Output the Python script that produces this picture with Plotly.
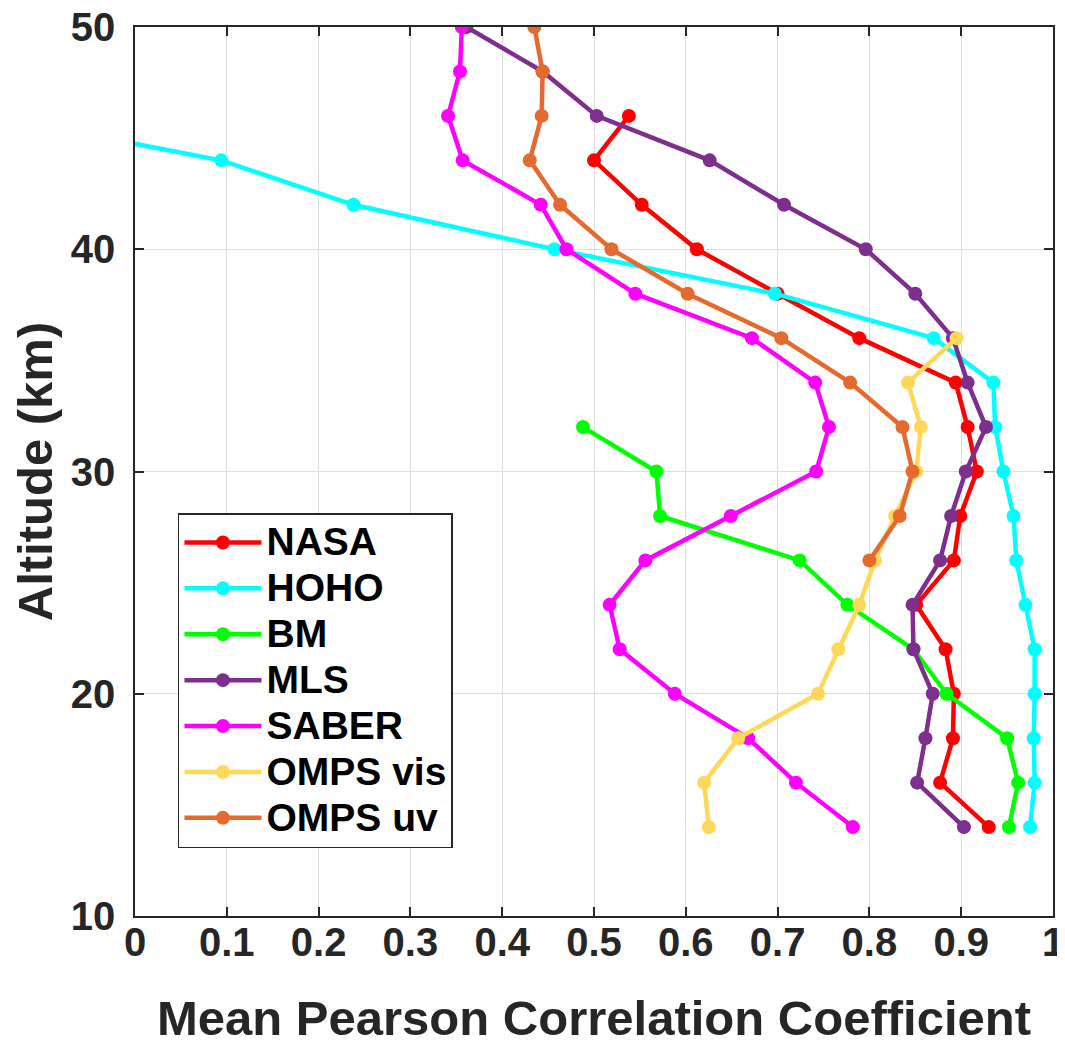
import plotly.graph_objects as go

# Altitude levels (km)
alt_nasa = [46, 44, 42, 40, 38, 36, 34, 32, 30, 28, 26, 24, 22, 20, 18, 16, 14]
nasa = [0.538, 0.500, 0.552, 0.612, 0.700, 0.789, 0.894, 0.907, 0.917, 0.899,
        0.892, 0.851, 0.883, 0.892, 0.891, 0.877, 0.930]

alt_hoho = [46, 44, 42, 40, 38, 36, 34, 32, 30, 28, 26, 24, 22, 20, 18, 16, 14]
hoho = [-0.16, 0.094, 0.238, 0.457, 0.697, 0.870, 0.935, 0.937, 0.946, 0.957,
        0.960, 0.970, 0.980, 0.980, 0.979, 0.980, 0.975]

alt_bm = [32, 30, 28, 26, 24, 22, 20, 18, 16, 14]
bm = [0.488, 0.568, 0.572, 0.724, 0.776, 0.848, 0.884, 0.950, 0.962, 0.952]

alt_mls = [50, 48, 46, 44, 42, 40, 38, 36, 34, 32, 30, 28, 26, 24, 22, 20, 18, 16, 14]
mls = [0.361, 0.444, 0.503, 0.626, 0.707, 0.796, 0.850, 0.891, 0.907, 0.927,
       0.905, 0.889, 0.877, 0.847, 0.848, 0.869, 0.861, 0.852, 0.903]

alt_saber = [50, 48, 46, 44, 42, 40, 38, 36, 34, 32, 30, 28, 26, 24, 22, 20, 18, 16, 14]
saber = [0.356, 0.354, 0.341, 0.357, 0.442, 0.470, 0.545, 0.672, 0.741, 0.756,
         0.742, 0.649, 0.556, 0.517, 0.528, 0.588, 0.668, 0.720, 0.782]

alt_vis = [36, 34, 32, 30, 28, 26, 24, 22, 20, 18, 16, 14]
omps_vis = [0.895, 0.842, 0.856, 0.851, 0.828, 0.806, 0.789, 0.766, 0.744, 0.657, 0.620, 0.625]

alt_uv = [50, 48, 46, 44, 42, 40, 38, 36, 34, 32, 30, 28, 26]
omps_uv = [0.435, 0.444, 0.443, 0.430, 0.463, 0.519, 0.602, 0.704, 0.779, 0.836, 0.847, 0.833, 0.800]

series = [
    ("NASA", nasa, alt_nasa, "#FF0000"),
    ("HOHO", hoho, alt_hoho, "#00FFFF"),
    ("BM", bm, alt_bm, "#00FF00"),
    ("MLS", mls, alt_mls, "#7E2F8E"),
    ("SABER", saber, alt_saber, "#FF00FF"),
    ("OMPS vis", omps_vis, alt_vis, "#FFD85A"),
    ("OMPS uv", omps_uv, alt_uv, "#E46A2E"),
]

x_ticks = [0, 0.1, 0.2, 0.3, 0.4, 0.5, 0.6, 0.7, 0.8, 0.9, 1]
x_ticklabels = ["0", "0.1", "0.2", "0.3", "0.4", "0.5", "0.6", "0.7", "0.8", "0.9", "1"]
y_ticks = [10, 20, 30, 40, 50]

FONT = "Liberation Sans, Arial, Helvetica, sans-serif"
AX = "#262626"

fig = go.Figure()
for name, xs, ys, col in series:
    fig.add_trace(go.Scatter(
        x=xs, y=ys, mode="lines+markers",
        name='<span style="font-size:39px">' + name + '</span>',
        line=dict(color=col, width=4.5),
        marker=dict(color=col, size=14),
    ))

fig.update_layout(
    width=1065, height=1046,
    margin=dict(l=127, r=20, t=19, b=138, autoexpand=False),
    paper_bgcolor="white", plot_bgcolor="white",
    font=dict(family=FONT, color=AX),
    legend=dict(
        x=0.0468, y=0.4533, xanchor="left", yanchor="top",
        bgcolor="white", bordercolor=AX, borderwidth=1.5,
        font=dict(family=FONT, size=33, color="black", weight="bold"),
        itemwidth=77, tracegroupgap=0,
    ),
    showlegend=True,
)

fig.update_xaxes(
    range=[0, 1], tickvals=x_ticks, ticktext=x_ticklabels,
    automargin=False, ticklabeloverflow="allow",
    showgrid=True, gridcolor="#DEDEDE", gridwidth=1,
    showline=True, linecolor=AX, linewidth=1.5, mirror="allticks",
    ticks="inside", ticklen=9, tickcolor=AX, tickwidth=1.5,
    tickfont=dict(family=FONT, size=40, color=AX, weight="bold"),
    ticklabelstandoff=-10,
    zeroline=False,
    title=dict(text="Mean Pearson Correlation Coefficient",
               font=dict(family=FONT, size=49, color=AX, weight="bold"),
               standoff=38),
)
fig.update_yaxes(
    range=[10, 50], tickvals=y_ticks,
    automargin=False, ticklabeloverflow="allow",
    showgrid=True, gridcolor="#DEDEDE", gridwidth=1,
    showline=True, linecolor=AX, linewidth=1.5, mirror="allticks",
    ticks="inside", ticklen=9, tickcolor=AX, tickwidth=1.5,
    tickfont=dict(family=FONT, size=40, color=AX, weight="bold"),
    ticklabelstandoff=10,
    zeroline=False,
    title=dict(text="Altitude (km)",
               font=dict(family=FONT, size=49, color=AX, weight="bold"),
               standoff=3),
)

fig.write_html("out.html")
